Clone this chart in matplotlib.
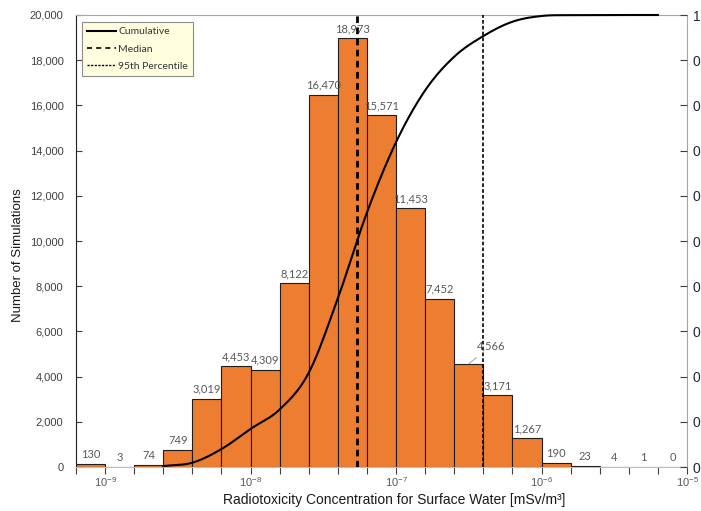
import numpy as np
import matplotlib
matplotlib.use("Agg")
import matplotlib.pyplot as plt
from matplotlib.ticker import FixedLocator, FuncFormatter, NullFormatter
from matplotlib.lines import Line2D

plt.rcParams['font.family'] = ['Liberation Sans', 'DejaVu Sans']
plt.rcParams['mathtext.fontset'] = 'custom'
plt.rcParams['mathtext.rm'] = 'Liberation Sans'
plt.rcParams['mathtext.it'] = 'Liberation Sans'

# Histogram bins: log10 of the lower edge of the first bin and the bin width (decades)
bin_start_exp = -9.2
bin_width_exp = 0.2
counts = [130, 3, 74, 749, 3019, 4453, 4309, 8122, 16470, 18973, 15571,
          11453, 7452, 4566, 3171, 1267, 190, 23, 4, 1, 0]
median_value = 5.38e-8
p95_value = 3.96e-7
xtick_values = [1e-9, 1e-8, 1e-7, 1e-6, 1e-5]
xtick_labels = [r'$10^{-9}$', r'$10^{-8}$', r'$10^{-7}$', r'$10^{-6}$', r'$10^{-5}$']
ytick_values = list(range(0, 20001, 2000))
y2tick_values = [round(0.1 * i, 1) for i in range(11)]

counts = np.array(counts, dtype=float)
n_bins = len(counts)
edges_exp = bin_start_exp + bin_width_exp * np.arange(n_bins + 1)
edges = 10.0 ** edges_exp
widths = edges[1:] - edges[:-1]
centers = 10.0 ** (0.5 * (edges_exp[1:] + edges_exp[:-1]))
cumulative = np.cumsum(counts) / counts.sum()


def catmull_rom(xs, ys, n=24):
    pts = np.column_stack([xs, ys])
    P = np.vstack([2 * pts[0] - pts[1], pts, 2 * pts[-1] - pts[-2]])
    out = []
    t = np.linspace(0, 1, n, endpoint=False)[:, None]
    for i in range(1, len(P) - 2):
        p0, p1, p2, p3 = P[i - 1], P[i], P[i + 1], P[i + 2]
        seg = 0.5 * ((2 * p1) + (-p0 + p2) * t + (2 * p0 - 5 * p1 + 4 * p2 - p3) * t ** 2
                     + (-p0 + 3 * p1 - 3 * p2 + p3) * t ** 3)
        out.append(seg)
    out.append(P[-2][None])
    s = np.vstack(out)
    return s[:, 0], s[:, 1]


W, H = 701, 511
fig = plt.figure(figsize=(W / 100, H / 100), dpi=100)
ax = fig.add_axes([76 / W, 1 - 467 / H, (687 - 76) / W, (467 - 15) / H])

orange = '#ED7D31'
ax.bar(edges[:-1], counts, width=widths, align='edge', color=orange,
       edgecolor='#1e1e1e', linewidth=0.8, zorder=2)

ax.set_xscale('log')
ax.set_xlim(edges[0], edges[-1])
ax.set_ylim(0, 20000)

label_color = '#595959'
for i, (c, v) in enumerate(zip(centers, counts)):
    txt = f'{int(v):,}'
    if int(v) == 4566:
        ax.annotate(txt, xy=(c, v), xytext=(16, 13), textcoords='offset points',
                    ha='center', va='center', fontsize=8, color=label_color,
                    family=['Lato', 'DejaVu Sans'],
                    arrowprops=dict(arrowstyle='-', color='#a6a6a6', lw=0.7,
                                    shrinkA=4, shrinkB=0), zorder=5)
    else:
        ax.annotate(txt, xy=(c, v), xytext=(0, 3), textcoords='offset points',
                    ha='center', va='bottom', fontsize=8, color=label_color,
                    family=['Lato', 'DejaVu Sans'], zorder=5)

# percentile markers
ax.axvline(median_value, color='black', lw=2.0, ls=(0, (2.4, 1.6)), zorder=4)
ax.axvline(p95_value, color='black', lw=1.2, ls=(0, (2.2, 1.3)), zorder=4)

# x ticks
ax.xaxis.set_major_locator(FixedLocator(xtick_values))
ax.set_xticklabels(xtick_labels)
ax.xaxis.set_minor_locator(FixedLocator(edges))
ax.xaxis.set_minor_formatter(NullFormatter())
ax.tick_params(axis='x', which='both', direction='out', length=5, width=0.8,
               color='#404040', labelsize=8, labelcolor=label_color, pad=1)

# left y ticks
ax.set_yticks(ytick_values)
ax.yaxis.set_major_formatter(FuncFormatter(lambda v, p: f'{int(v):,}'))
ax.tick_params(axis='y', direction='in', length=4, width=0.8, color='#404040',
               labelsize=8, labelcolor='#404040', pad=9)

for side in ('top', 'right'):
    ax.spines[side].set_color('#a6a6a6')
ax.spines['bottom'].set_color('#bfbfbf')
ax.spines['left'].set_color('#1e1e1e')

# cumulative curve on the secondary axis
ax2 = ax.twinx()
ax2.set_ylim(0, 1)
sel = slice(2, n_bins - 1)
cx, cy = catmull_rom(edges_exp[1:][sel], cumulative[sel])
ax2.plot(10.0 ** cx, cy, color='black', lw=1.5, zorder=6, clip_on=False)
ax2.set_yticks(y2tick_values)
ax2.yaxis.set_major_formatter(FuncFormatter(lambda v, p: f'{v:g}'))
ax2.tick_params(axis='y', direction='in', length=5, width=0.8, color='#404040',
                labelsize=10, labelcolor='#262640', pad=4)
for side in ('top', 'right', 'left', 'bottom'):
    ax2.spines[side].set_visible(False)
ax.spines['right'].set_zorder(10)

fig.text(18 / W, 1 - 255 / H, 'Number of Simulations', rotation=90,
         ha='center', va='center', fontsize=9.5, color='#1a1a1a')
fig.text(394 / W, 1 - 500 / H, 'Radiotoxicity Concentration for Surface Water [mSv/m³]',
         ha='center', va='center', fontsize=10, color='#1a1a1a')

handles = [Line2D([], [], color='black', lw=1.5),
           Line2D([], [], color='black', lw=1.2, ls=(0, (3, 2.5))),
           Line2D([], [], color='black', lw=1.0, ls=(0, (1.6, 1.0)))]
leg = ax2.legend(handles, ['Cumulative', 'Median', '95th Percentile'],
                 loc='upper left', bbox_to_anchor=(6 / 611, 1 - 7 / 452),
                 frameon=True, fancybox=False, framealpha=1, facecolor='#FFFFE0',
                 edgecolor='#8c8c8c', prop={'family': ['Lato', 'DejaVu Sans'], 'size': 7.5},
                 handlelength=2.8, handletextpad=0.2, borderpad=0.5, labelspacing=0.75,
                 borderaxespad=0)
leg.get_frame().set_linewidth(0.8)
for t in leg.get_texts():
    t.set_color('#333333')

fig.savefig('out.png', dpi=100)
